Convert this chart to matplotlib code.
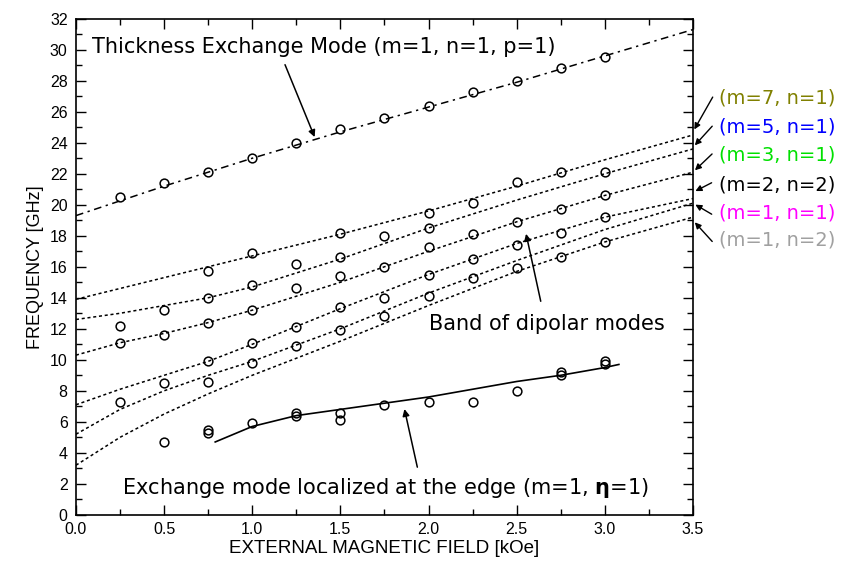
import numpy as np
import matplotlib
matplotlib.use("Agg")
import matplotlib.pyplot as plt
from matplotlib.ticker import MultipleLocator, FormatStrFormatter

plt.rcParams['font.family'] = ['DejaVu Sans']

# measured points
thick_field = [0.25, 0.5, 0.75, 1.0, 1.25, 1.5, 1.75, 2.0, 2.25, 2.5, 2.75, 3.0]
thick_freq = [20.5, 21.4, 22.1, 23.0, 24.0, 24.9, 25.6, 26.4, 27.3, 28.0, 28.8, 29.5]

dip_field = [0.25, 0.25, 0.25,
             0.5, 0.5, 0.5,
             0.75, 0.75, 0.75, 0.75, 0.75,
             1.0, 1.0, 1.0, 1.0, 1.0,
             1.25, 1.25, 1.25, 1.25,
             1.5, 1.5, 1.5, 1.5, 1.5,
             1.75, 1.75, 1.75, 1.75,
             2.0, 2.0, 2.0, 2.0, 2.0,
             2.25, 2.25, 2.25, 2.25,
             2.5, 2.5, 2.5, 2.5,
             2.75, 2.75, 2.75, 2.75,
             3.0, 3.0, 3.0, 3.0]
dip_freq = [12.2, 11.1, 7.3,
            13.2, 11.6, 8.5,
            15.7, 14.0, 12.4, 9.9, 8.6,
            16.9, 14.8, 13.2, 11.1, 9.8,
            16.2, 14.6, 12.1, 10.9,
            18.2, 16.6, 15.4, 13.4, 11.9,
            18.0, 16.0, 14.0, 12.8,
            19.5, 18.5, 17.3, 15.5, 14.1,
            20.1, 18.1, 16.5, 15.3,
            21.5, 18.9, 17.4, 15.9,
            22.1, 19.7, 18.2, 16.6,
            22.1, 20.6, 19.2, 17.6]

edge_field = [0.5, 0.75, 0.75, 1.0, 1.25, 1.25, 1.5, 1.5, 1.75, 2.0, 2.25, 2.5, 2.75, 2.75, 3.0, 3.0]
edge_freq = [4.7, 5.3, 5.5, 5.9, 6.6, 6.4, 6.6, 6.1, 7.1, 7.3, 7.3, 8.0, 9.0, 9.2, 9.7, 9.9]

# theory curves
thick_fit_x = [0.0, 0.5, 1.0, 1.5, 2.0, 2.5, 3.0, 3.5]
thick_fit_y = [19.3, 21.2, 23.0, 24.7, 26.3, 27.9, 29.6, 31.3]

dip_fit_x = [0.0, 0.25, 0.5, 0.75, 1.0, 1.5, 2.0, 2.5, 3.0, 3.5]
dip_m7 = [13.9, 14.6, 15.3, 16.0, 16.7, 18.1, 19.6, 21.2, 22.9, 24.5]
dip_m5 = [12.6, 13.0, 13.5, 14.0, 14.7, 16.5, 18.5, 20.3, 22.0, 23.6]
dip_m3 = [10.3, 11.1, 11.7, 12.4, 13.2, 15.0, 17.0, 18.9, 20.6, 22.1]
dip_m2n2 = [7.1, 8.1, 9.0, 9.9, 11.0, 13.3, 15.5, 17.5, 19.2, 20.4]
dip_m1n1 = [5.2, 6.8, 8.0, 9.0, 9.9, 12.0, 14.3, 16.4, 18.4, 20.1]
dip_m1n2 = [3.2, 5.0, 6.5, 7.8, 9.0, 11.2, 13.5, 15.7, 17.6, 19.2]

edge_fit_x = [0.79, 1.0, 1.25, 1.5, 1.75, 2.0, 2.25, 2.5, 2.75, 3.0, 3.08]
edge_fit_y = [4.7, 5.7, 6.4, 6.8, 7.2, 7.6, 8.1, 8.6, 9.0, 9.5, 9.7]

mode_labels = ['(m=7, n=1)', '(m=5, n=1)', '(m=3, n=1)', '(m=2, n=2)', '(m=1, n=1)', '(m=1, n=2)']
mode_colors = ['#808000', '#0000ff', '#00e000', '#000000', '#ff00ff', '#a0a0a0']
label_y = [26.9, 25.0, 23.2, 21.3, 19.5, 17.7]
arrow_tip_y = [24.7, 23.7, 22.1, 20.8, 20.1, 19.0]

fig = plt.figure(figsize=(8.44, 5.67), dpi=100)
ax = fig.add_axes([0.09, 0.092, 0.731, 0.875])

ax.plot(thick_fit_x, thick_fit_y, color='black', lw=1.1, ls=(0, (5, 3, 1.5, 3)))
for yy in [dip_m7, dip_m5, dip_m3, dip_m2n2, dip_m1n1, dip_m1n2]:
    ax.plot(dip_fit_x, yy, color='black', lw=1.1, ls=(0, (2, 1.8)))
ax.plot(edge_fit_x, edge_fit_y, color='black', lw=1.2)

mk = dict(ls='none', marker='o', ms=6.3, mfc='none', mec='black', mew=1.1)
ax.plot(thick_field, thick_freq, **mk)
ax.plot(dip_field, dip_freq, **mk)
ax.plot(edge_field, edge_freq, **mk)

ax.set_xlim(0, 3.5)
ax.set_ylim(0, 32)
ax.xaxis.set_major_locator(MultipleLocator(0.5))
ax.xaxis.set_minor_locator(MultipleLocator(0.25))
ax.yaxis.set_major_locator(MultipleLocator(2))
ax.yaxis.set_minor_locator(MultipleLocator(1))
ax.xaxis.set_major_formatter(FormatStrFormatter('%.1f'))
ax.tick_params(which='both', direction='in', top=True, right=True, labelsize=11.5, colors='black')
ax.tick_params(which='major', length=7, width=1)
ax.tick_params(which='minor', length=4, width=1)
ax.tick_params(axis='x', pad=5)
ax.tick_params(axis='y', pad=6)
for t in ax.get_xticklabels() + ax.get_yticklabels():
    t.set_family('Liberation Sans')
for s in ax.spines.values():
    s.set_linewidth(1.2)

ax.set_xlabel('EXTERNAL MAGNETIC FIELD [kOe]', fontsize=13.5, family='Liberation Sans', labelpad=2)
ax.set_ylabel('FREQUENCY [GHz]', fontsize=13, family='Liberation Sans', labelpad=4)

arr = dict(arrowstyle='-|>', color='black', lw=1.1, mutation_scale=10)
ax.text(0.09, 30.2, 'Thickness Exchange Mode (m=1, n=1, p=1)', fontsize=15, va='center')
ax.annotate('', xy=(1.36, 24.2), xytext=(1.18, 29.2), arrowprops=arr)

ax.text(2.0, 12.3, 'Band of dipolar modes', fontsize=15, va='center')
ax.annotate('', xy=(2.55, 18.3), xytext=(2.64, 13.6), arrowprops=arr)

ax.text(0.26, 1.75, 'Exchange mode localized at the edge (m=1, $\\mathbf{\\eta}$=1)', fontsize=15, va='center')
ax.annotate('', xy=(1.86, 7.0), xytext=(1.94, 2.9), arrowprops=arr)

for lab, col, ly, ty in zip(mode_labels, mode_colors, label_y, arrow_tip_y):
    ax.text(3.65, ly, lab, color=col, fontsize=14, va='center', clip_on=False)
    ax.annotate('', xy=(3.5, ty), xytext=(3.62, ly + 0.2 if ly > ty else ly - 0.2),
                arrowprops=dict(arrowstyle='-|>', color='black', lw=1.0, mutation_scale=9),
                annotation_clip=False)

fig.savefig('out.png', dpi=100)
